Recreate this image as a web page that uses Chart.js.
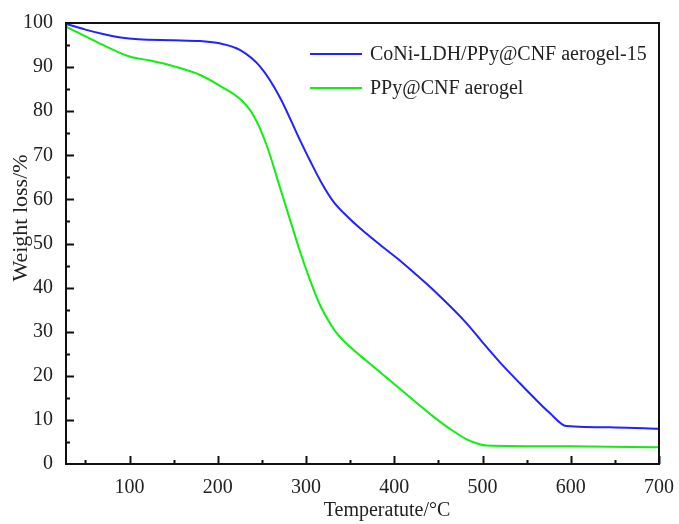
<!DOCTYPE html>
<html>
<head>
<meta charset="utf-8">
<script src="https://cdn.jsdelivr.net/npm/chart.js@4"></script>
<style>
  body { margin: 0; background: #fff; }
  #wrap { width: 679px; height: 524px; }
</style>
</head>
<body>
<div id="wrap"><canvas id="myChart" width="679" height="524"></canvas></div>
<script>
// datos
const seriesNames = ["CoNi-LDH/PPy@CNF aerogel-15", "PPy@CNF aerogel"];
const blueTemp   = [28, 50, 70, 90, 110, 150, 180, 202, 225, 248, 270, 293, 305, 318, 331, 350, 368, 387, 406, 425, 444, 482, 500, 520, 540, 557, 576, 595, 650, 700];
const blueWeight = [99.8, 98.5, 97.5, 96.7, 96.3, 96.1, 95.9, 95.4, 93.9, 90.1, 83.3, 73.5, 68.6, 63.6, 59.5, 55.5, 52.3, 49.2, 46.2, 42.9, 39.5, 31.9, 27.6, 23.0, 18.8, 15.3, 11.6, 8.6, 8.3, 8.0];
const greenTemp   = [28, 66, 100, 123, 150, 180, 202, 225, 240, 255, 270, 282, 293, 304, 316, 326, 335, 353, 369, 384, 406, 444, 465, 482, 495, 504, 600, 700];
const greenWeight = [99.2, 95.4, 92.4, 91.5, 90.2, 88.2, 85.8, 82.8, 79.2, 72.5, 63.0, 55.3, 48.3, 42.0, 36.0, 32.3, 29.6, 26.0, 23.3, 20.8, 17.1, 10.8, 7.7, 5.6, 4.6, 4.2, 4.0, 3.8];
const xTicks = [100, 200, 300, 400, 500, 600, 700];
const yTicks = [0, 10, 20, 30, 40, 50, 60, 70, 80, 90, 100];
const xTitle = "Temperatute/°C";
const yTitle = "Weight loss/%";

const colors = ["#2222ff", "#11ee11"];
const serif = "'Liberation Serif', 'DejaVu Serif', serif";
const textColor = "#222";

function toPoints(xs, ys) {
    return xs.map((x, i) => ({ x: x, y: ys[i] }));
}

// ticks hacia dentro, marco, leyenda y titulos
const framePlugin = {
    id: "frame",
    afterDatasetsDraw(chart) {
        const ctx = chart.ctx;
        const a = chart.chartArea;
        const xs = chart.scales.x;
        const ys = chart.scales.y;
        ctx.save();
        ctx.strokeStyle = "#111";
        ctx.lineWidth = 2;

        ctx.beginPath();
        for (let v = 50; v <= 700; v += 50) {
            const px = Math.round(xs.getPixelForValue(v)) + 0.5;
            const len = (v % 100 === 0) ? 8 : 4;
            ctx.moveTo(px, a.bottom);
            ctx.lineTo(px, a.bottom - len);
        }
        for (let v = 5; v < 100; v += 5) {
            const py = Math.round(ys.getPixelForValue(v)) + 0.5;
            const len = (v % 10 === 0) ? 8 : 4;
            ctx.moveTo(a.left, py);
            ctx.lineTo(a.left + len, py);
        }
        ctx.stroke();

        ctx.strokeRect(a.left, a.top, a.right - a.left, a.bottom - a.top);

        // leyenda
        ctx.font = "20px " + serif;
        ctx.fillStyle = textColor;
        ctx.textBaseline = "middle";
        ctx.textAlign = "left";
        chart.data.datasets.forEach((ds, i) => {
            const y = 54 + i * 34;
            ctx.beginPath();
            ctx.strokeStyle = ds.borderColor;
            ctx.lineWidth = 2;
            ctx.moveTo(310, y);
            ctx.lineTo(362, y);
            ctx.stroke();
            ctx.fillText(ds.label, 370, y + 1);
        });

        // titulos de ejes
        ctx.font = "20px " + serif;
        ctx.textAlign = "center";
        ctx.fillText(xTitle, 387, 511);
        ctx.save();
        ctx.translate(21, 218);
        ctx.rotate(-Math.PI / 2);
        ctx.font = "22px " + serif;
        ctx.fillText(yTitle, 0, 0);
        ctx.restore();
        ctx.restore();
    }
};

const ctx = document.getElementById("myChart");

new Chart(ctx, {
    type: "line",
    data: {
        datasets: [
            {
                label: seriesNames[0],
                data: toPoints(blueTemp, blueWeight),
                borderColor: colors[0],
                borderWidth: 2,
                pointRadius: 0,
                cubicInterpolationMode: "monotone"
            },
            {
                label: seriesNames[1],
                data: toPoints(greenTemp, greenWeight),
                borderColor: colors[1],
                borderWidth: 2,
                pointRadius: 0,
                cubicInterpolationMode: "monotone"
            }
        ]
    },
    plugins: [framePlugin],
    options: {
        responsive: false,
        animation: false,
        layout: { padding: { top: 23, right: 20, left: 0, bottom: 0 } },
        plugins: {
            legend: { display: false },
            tooltip: { enabled: false }
        },
        scales: {
            x: {
                type: "linear",
                min: 28,
                max: 700,
                grid: { display: false, drawTicks: false },
                border: { display: false },
                afterBuildTicks: (scale) => { scale.ticks = xTicks.map(v => ({ value: v })); },
                afterFit: (scale) => {
                    scale.height = 60;
                    scale.paddingLeft = 0;
                    scale.paddingRight = 0;
                },
                ticks: {
                    padding: 12,
                    maxRotation: 0,
                    autoSkip: false,
                    color: textColor,
                    font: { family: serif, size: 20 }
                }
            },
            y: {
                min: 0,
                max: 100,
                grid: { display: false, drawTicks: false },
                border: { display: false },
                afterBuildTicks: (scale) => { scale.ticks = yTicks.map(v => ({ value: v })); },
                afterFit: (scale) => {
                    scale.width = 66;
                    scale.paddingTop = 0;
                    scale.paddingBottom = 0;
                },
                ticks: {
                    padding: 13,
                    color: textColor,
                    font: { family: serif, size: 20 }
                }
            }
        }
    }
});
</script>
</body>
</html>
